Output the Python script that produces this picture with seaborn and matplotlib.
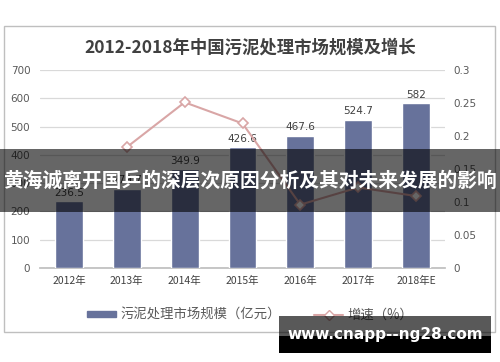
import matplotlib
matplotlib.use("Agg")
import matplotlib.pyplot as plt
import seaborn as sns
import numpy as np
import pandas as pd
from matplotlib.patches import Rectangle, Patch
from matplotlib.lines import Line2D

years = ["2012年", "2013年", "2014年", "2015年", "2016年", "2017年", "2018年E"]
market = [236.5, 279.7, 349.9, 426.6, 467.6, 524.7, 582]
growth_years = ["2013年", "2014年", "2015年", "2016年", "2017年", "2018年E"]
growth = [0.183, 0.251, 0.219, 0.096, 0.122, 0.109]
left_ticks = [0, 100, 200, 300, 400, 500, 600, 700]
right_ticks = [0, 0.05, 0.1, 0.15, 0.2, 0.25, 0.3]
right_labels = ["0", "0.05", "0.1", "0.15", "0.2", "0.25", "0.3"]

title = "2012-2018年中国污泥处理市场规模及增长"
bar_label = "污泥处理市场规模（亿元）"
line_label = "增速（%）"
banner = "黄海诚离开国乒的深层次原因分析及其对未来发展的影响"
watermark = "www.cnapp--ng28.com"

sns.set_theme(style="white")
plt.rcParams['font.family'] = ['Noto Sans CJK SC', 'DejaVu Sans']

BAR = "#67729b"
LINE = "#d9a6a6"
TXT = "#595959"

fig = plt.figure(figsize=(5, 3.62), dpi=100)
ax = fig.add_axes([0.08, 0.2597, 0.81, 0.547])

df = pd.DataFrame({"year": years, "market": market})
sns.barplot(data=df, x="year", y="market", color=BAR, width=0.48, ax=ax,
            saturation=1, zorder=3)
ax.set_ylim(0, 700)
ax.set_yticks(left_ticks)
ax.set_xlim(-0.5, len(years) - 0.5)
ax.grid(axis="y", color="#d9d9d9", lw=0.9, zorder=0)
ax.set_axisbelow(True)
for s in ["top", "right", "left"]:
    ax.spines[s].set_visible(False)
ax.spines["bottom"].set_color("#bfbfbf")
ax.set_xlabel("")
ax.set_ylabel("")
ax.tick_params(axis="y", length=0, labelsize=7.5, labelcolor=TXT, pad=7)
ax.tick_params(axis="x", length=0, labelsize=7.5, labelcolor="#404040", pad=6)
for lab in ax.get_yticklabels():
    lab.set_family(['DejaVu Sans'])
ax.set_xticks(np.arange(-0.5, len(years)), minor=True)
ax.tick_params(axis="x", which="minor", length=3, color="#bfbfbf", direction="out")

for i, v in enumerate(market):
    ax.text(i, v + 12, f"{v:g}", ha="center", va="bottom", fontsize=7.5,
            color="#404040", family=['DejaVu Sans'], zorder=4)

ax2 = ax.twinx()
pos = [years.index(y) for y in growth_years]
gdf = pd.DataFrame({"pos": pos, "growth": growth})
sns.lineplot(data=gdf, x="pos", y="growth", ax=ax2, color=LINE, lw=1.5,
             marker="D", markersize=5, markerfacecolor="white",
             markeredgecolor=LINE, markeredgewidth=1.2)
ax2.set_ylim(0, 0.3)
ax2.set_yticks(right_ticks)
ax2.set_yticklabels(right_labels)
ax2.set_xlim(-0.5, len(years) - 0.5)
ax2.set_ylabel("")
ax2.set_xlabel("")
for s in ["top", "right", "left", "bottom"]:
    ax2.spines[s].set_visible(False)
ax2.tick_params(axis="y", length=0, labelsize=7.5, labelcolor=TXT, pad=6)
for lab in ax2.get_yticklabels():
    lab.set_family(['DejaVu Sans'])
ax2.grid(False)

fig.patches.append(Rectangle((4/500, 1-332/362), 491/500, 306/362,
                             transform=fig.transFigure, fill=False,
                             edgecolor="#bfbfbf", lw=1))

fig.text(0.5, 1-48/362, title, ha="center", va="center", fontsize=12.5,
         fontweight="bold", color="#404040")

handles = [Patch(facecolor=BAR, edgecolor=BAR),
           Line2D([0], [0], color=LINE, lw=1.5, marker="D", markersize=5,
                  markerfacecolor="white", markeredgecolor=LINE)]
leg = fig.legend(handles, [bar_label, line_label], loc="center",
                 bbox_to_anchor=(0.5, 1-315/362), ncol=2, frameon=False,
                 fontsize=9.6, handlelength=2.2, handleheight=0.35,
                 columnspacing=2.5, handletextpad=0.3)
for t in leg.get_texts():
    t.set_color(TXT)

fig.patches.append(Rectangle((0, 1-212/362), 1, 63/362, transform=fig.transFigure,
                             facecolor="black", alpha=0.6, edgecolor="none",
                             zorder=10))
fig.text(0.5, 1-181/362, banner, ha="center", va="center", fontsize=14.2,
         fontweight="bold", color="white", zorder=11)

fig.patches.append(Rectangle((279/500, 1-353/362), 212/500, 37/362,
                             transform=fig.transFigure, facecolor="black",
                             alpha=0.65, edgecolor="none", zorder=10))
fig.patches.append(Rectangle((279/500, 1-353/362), 212/500, 17/362,
                             transform=fig.transFigure, facecolor="black",
                             edgecolor="none", zorder=10))
fig.text(385/500, 1-335/362, watermark, ha="center", va="center", fontsize=11,
         fontweight="bold", color="white", family=['DejaVu Sans'], zorder=11)

fig.savefig("out.png", dpi=100)
